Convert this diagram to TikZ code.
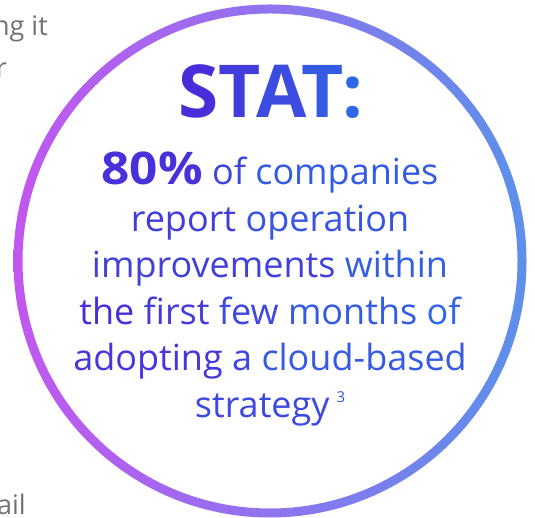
\documentclass[tikz,border=0pt]{standalone}
\usepackage{fontspec}
\setmainfont{Open Sans}
\definecolor{ringleft}{HTML}{C257F0}
\definecolor{ringright}{HTML}{5C90EB}
\definecolor{textleft}{HTML}{4B2AD8}
\definecolor{textright}{HTML}{2E6BE8}
\definecolor{sidegray}{HTML}{727272}
\newcommand{\wordtint}[2]{\textcolor{textright!#1!textleft}{#2}}
\tikzset{
	body/.style={font=\fontsize{36}{36}\selectfont, inner sep=0pt, anchor=base},
	side/.style={font=\fontsize{27}{27}\selectfont, text=sidegray, inner sep=0pt, anchor=base east}
}
\begin{document}
\begin{tikzpicture}[x=1pt, y=1pt]

		\useasboundingbox (0,0) rectangle (535,518);
		\coordinate (centre) at (270,257);
		\shade[left color=ringleft, right color=ringright, even odd rule] (centre) circle[radius=256.5] circle[radius=247.5];

		\node[side](ngit) at (48,482){ng it};
		\node[side](r) at (7,440){r};
		\node[side](ail) at (26,3){ail};

		\node[inner sep=0pt, anchor=base, font=\fontsize{73}{73}\selectfont\bfseries](stat) at (271,400){\wordtint{5}{S}\wordtint{28}{T}\kern-5pt\wordtint{52}{A}\kern-5pt\wordtint{75}{T}\kern-1pt\wordtint{95}{:}};

		\node[body](lineone) at (270,333){\wordtint{10}{\scalebox{1.1}[1]{\fontsize{45}{45}\selectfont\bfseries 80\%}} \wordtint{42}{of} \wordtint{75}{companies}};
		\node[body](linetwo) at (270,286){\wordtint{27}{report} \wordtint{65}{operation}};
		\node[body](linethree) at (270,240){\wordtint{34}{improvements} \wordtint{81}{within}};
		\node[body](linefour) at (270,193){\wordtint{6}{the} \wordtint{26}{first} \wordtint{45}{few} \wordtint{75}{months} \wordtint{95}{of}};
		\node[body](linefive) at (270,147){\wordtint{18}{adopting} \wordtint{42}{a} \wordtint{73}{cloud-based}};
		\node[body](linesix) at (270,100){\wordtint{47}{strategy}\hspace{7pt}\wordtint{69}{\raisebox{15pt}{\fontsize{15}{15}\selectfont 3}}};

	\end{tikzpicture}
\end{document}
